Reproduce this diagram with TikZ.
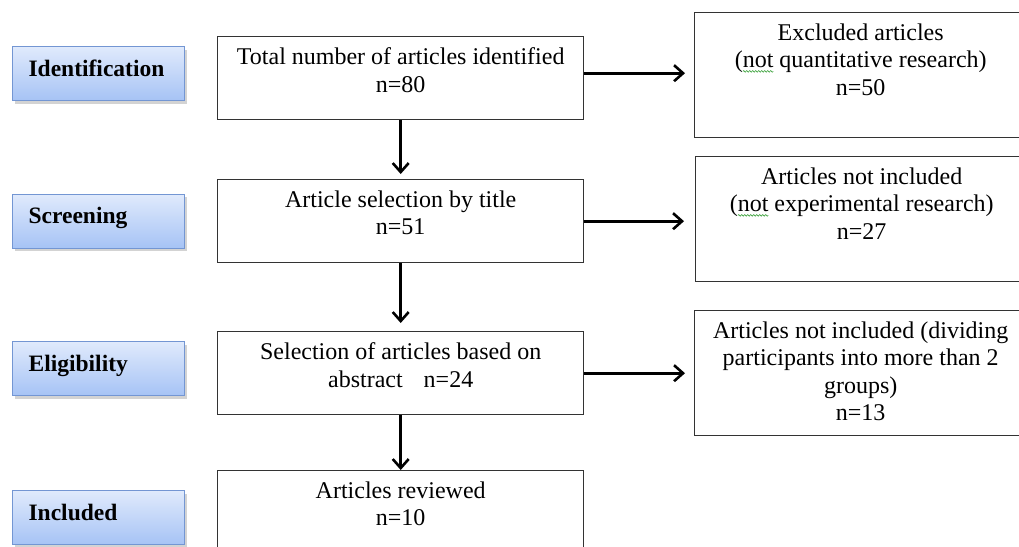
\documentclass[tikz,border=0pt]{standalone}
\usepackage{fontspec}
\setmainfont{Liberation Serif}
\usetikzlibrary{positioning,shadows,arrows.meta,decorations.pathmorphing}
\definecolor{stagetop}{HTML}{E0EAFC}
\definecolor{stagebot}{HTML}{A6C3F5}
\definecolor{stageline}{HTML}{7396D3}
\definecolor{boxline}{HTML}{333333}
\definecolor{spellgreen}{HTML}{3FA33F}
\newcommand{\spellmark}[1]{\setbox0\hbox{#1}\rlap{\tikz[overlay,x=1pt,y=1pt]\draw[spellgreen,line width=.6pt,decorate,decoration={snake,amplitude=.8pt,segment length=3pt}] (0,-3.5) -- (\the\wd0,-3.5);}\box0\relax}

\begin{document}
\begin{tikzpicture}[x=1pt,y=-1pt,
    stage/.style={draw=stageline,line width=1.2pt,top color=stagetop,bottom color=stagebot,
        anchor=north west,minimum width=172pt,text width=140pt,align=left,
        inner xsep=16pt,inner ysep=10pt,text height=19.5pt,text depth=14.5pt,
        font=\fontsize{23.5}{26}\selectfont\bfseries,
        drop shadow={shadow xshift=2.5pt,shadow yshift=-3pt,opacity=.35}},
    midbox/.style={draw=boxline,line width=1.4pt,anchor=north west,minimum width=366pt,minimum height=83pt},
    sidebox/.style={midbox,minimum width=332pt,minimum height=125pt},
    boxtxt/.style={align=center,inner sep=0pt,font=\fontsize{24}{27.5}\selectfont},
    arr/.style={line width=2.6pt,-{Straight Barb[length=9pt,width=16pt]}}]
    \path[use as bounding box,clip] (0,0) rectangle (1019,546);
    % stages
    \node[stage] (ident) at (12,46) {Identification};
    \node[stage] (screen) at (12,193.5) {Screening};
    \node[stage] (elig) at (12,341) {Eligibility};
    \node[stage] (incl) at (12,490) {Included};
    % flow
    \node[midbox] (total) at (217,36) {};
    \node[midbox] (title) at (217,179) {};
    \node[midbox] (abstract) at (217,331) {};
    \node[midbox,minimum height=90pt] (reviewed) at (217,470) {};
    \node[sidebox] (excl) at (694,12) {};
    \node[sidebox] (notexp) at (695,156) {};
    \node[sidebox] (groups) at (694,310) {};
    \node[boxtxt,below=11.5pt of total.north] (totaltxt) {Total number of articles identified\\n=80};
    \node[boxtxt,below=11.5pt of title.north] (titletxt) {Article selection by title\\n=51};
    \node[boxtxt,below=11.5pt of abstract.north] (abstracttxt) {Selection of articles based on\\abstract\hspace{21pt}n=24};
    \node[boxtxt,below=11.5pt of reviewed.north] (reviewedtxt) {Articles reviewed\\n=10};
    \node[boxtxt,below=11.5pt of excl.north] (excltxt) {Excluded articles\\(\spellmark{not} quantitative research)\\n=50};
    \node[boxtxt,below=11.5pt of notexp.north] (notexptxt) {Articles not included\\(\spellmark{not} experimental research)\\n=27};
    \node[boxtxt,below=11.5pt of groups.north] (groupstxt) {Articles not included (dividing\\participants into more than 2\\groups)\\n=13};
    \draw[arr,shorten >=5pt] (total) -- (title);
    \draw[arr,shorten >=8pt] (title) -- (abstract);
    \draw[arr] (abstract) -- (reviewed);
    \draw[arr,shorten >=9pt] ([yshift=5pt]total.east) -- ([yshift=5pt]total.east -| excl.west);
    \draw[arr,shorten >=11pt] (title.east) -- (title.east -| notexp.west);
    \draw[arr,shorten >=9pt] (abstract.east) -- (abstract.east -| groups.west);
\end{tikzpicture}
\end{document}
